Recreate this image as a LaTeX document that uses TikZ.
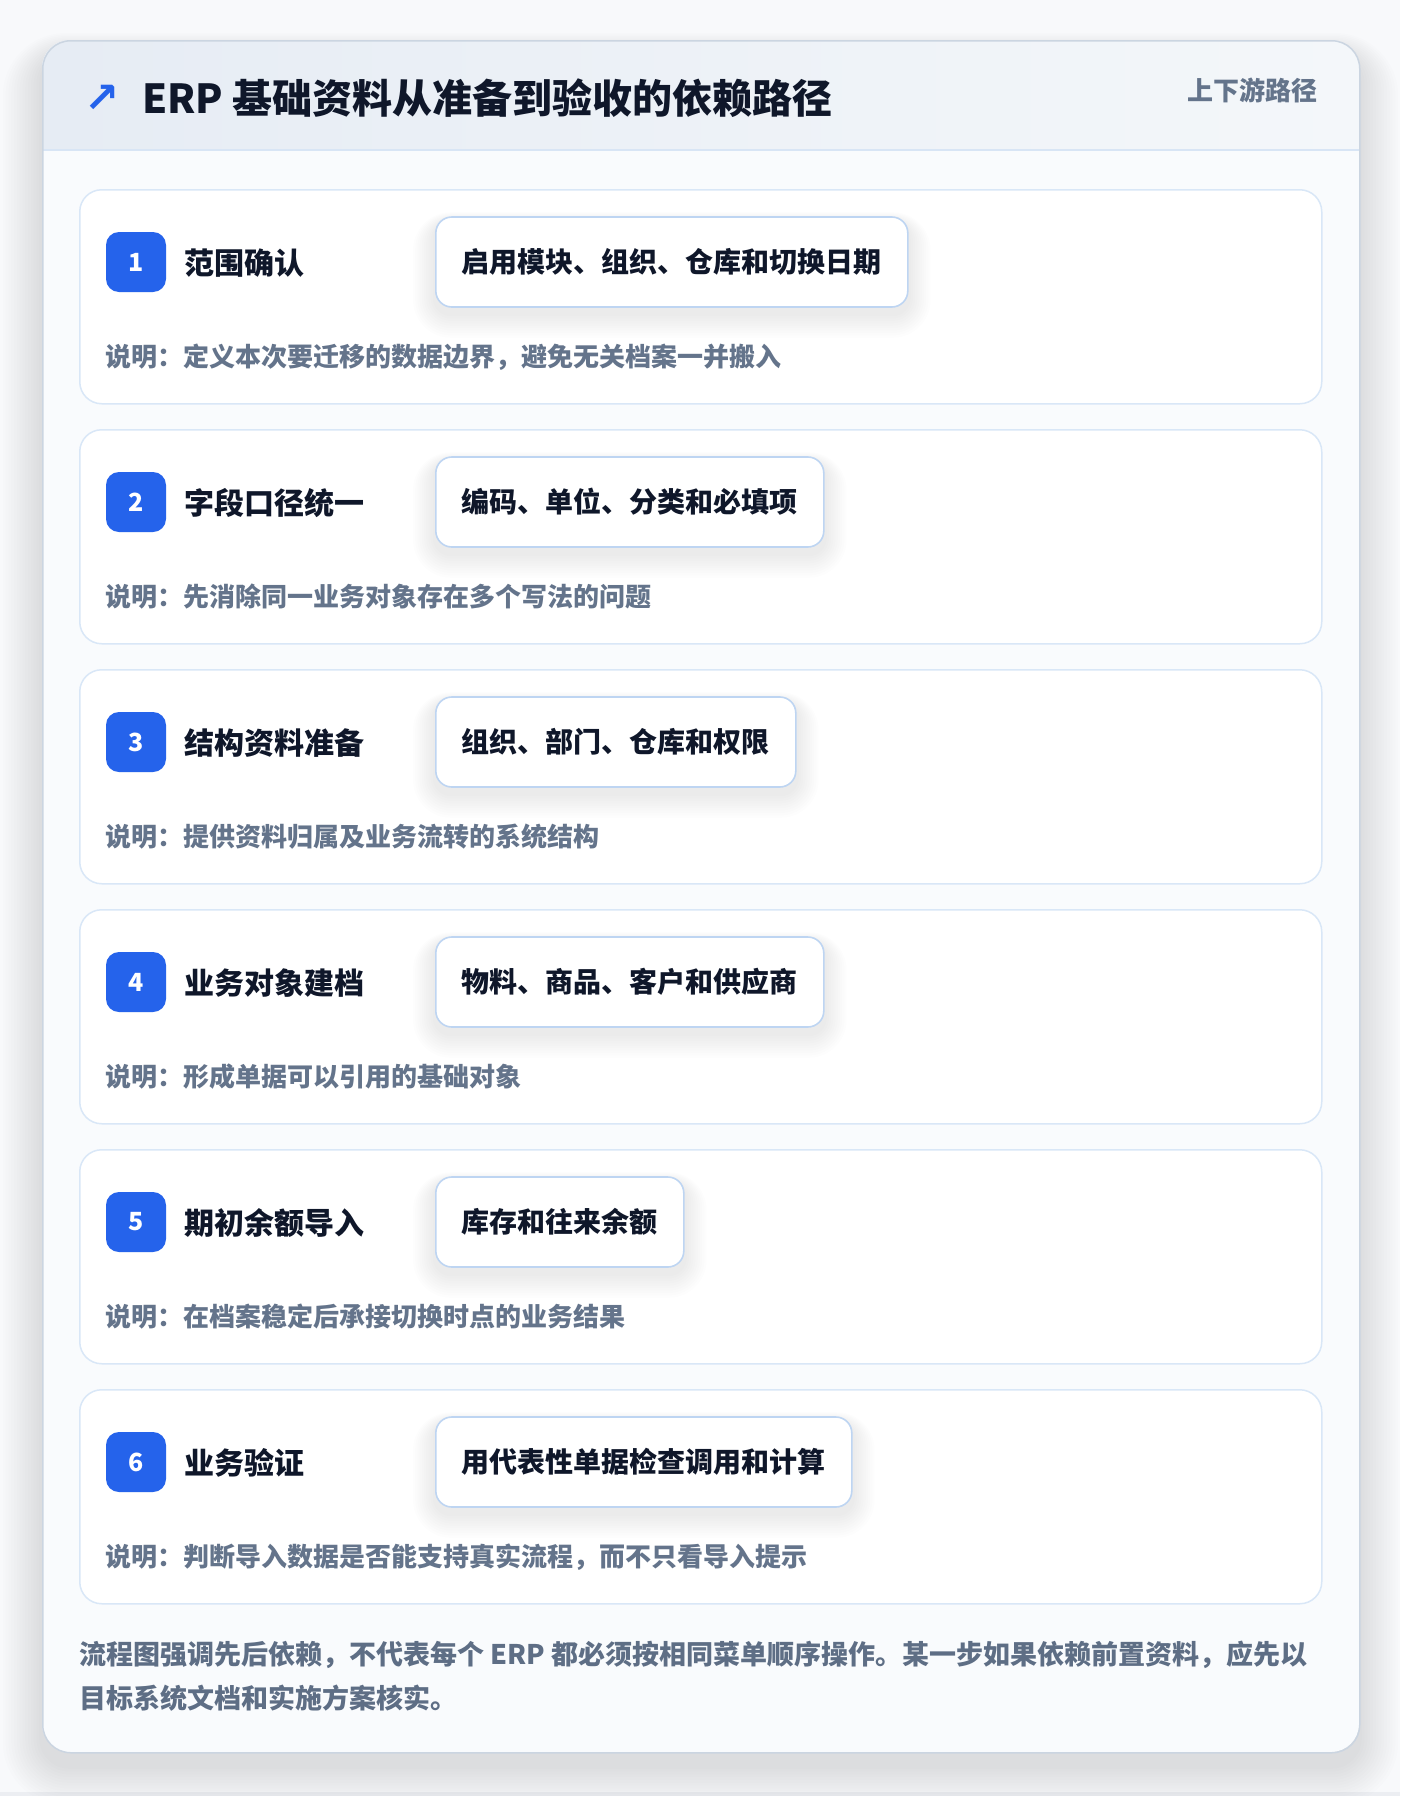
\documentclass[tikz,border=0pt]{standalone}
\usepackage{fontspec}
\setmainfont{Noto Sans CJK SC}
\newfontfamily\symfont{DejaVu Sans}
\definecolor{pagebg}{HTML}{F8F9FB}
\definecolor{cardbg}{HTML}{F9FBFD}
\definecolor{cardline}{HTML}{CBD5E1}
\definecolor{headL}{HTML}{E6ECF4}
\definecolor{headR}{HTML}{F4F7FA}
\definecolor{headline}{HTML}{D8E5F5}
\definecolor{stepline}{HTML}{D9E7F7}
\definecolor{tagline}{HTML}{BED5F2}
\definecolor{accent}{HTML}{2563EB}
\definecolor{ink}{HTML}{0F172A}
\definecolor{muted}{HTML}{64748B}
\definecolor{footc}{HTML}{5E6E85}
\definecolor{stripc}{HTML}{ECEEF2}
\pgfdeclarelayer{cardl}
\pgfdeclarelayer{stepl}
\pgfdeclarelayer{shadowl}
\pgfsetlayers{cardl,stepl,shadowl,main}
\begin{document}
\begin{tikzpicture}[x=1pt,y=-1pt,
  stepbox/.style={draw=stepline, line width=1.5pt, fill=white, rounded corners=22pt,
    minimum width=1242pt, minimum height=214pt, inner sep=0pt},
  badge/.style={fill=accent, rounded corners=13pt, minimum size=60pt, inner sep=0pt,
    text=white, font=\fontsize{25}{25}\selectfont\bfseries},
  steptitle/.style={inner sep=0pt, text=ink, font=\fontsize{30}{30}\selectfont\bfseries},
  tagbox/.style={draw=tagline, line width=1.6pt, fill=white, rounded corners=16pt,
    minimum height=90pt, inner xsep=26pt, inner ysep=0pt, text=ink,
    font=\fontsize{28}{28}\selectfont\bfseries},
  desc/.style={inner sep=0pt, text=muted, font=\fontsize{26}{26}\selectfont\bfseries},
  foot/.style={inner sep=0pt, text=footc, font=\fontsize{27}{27}\selectfont\bfseries},
]
\useasboundingbox (0,0) rectangle (1400,1796);
\begin{pgfonlayer}{cardl}
\fill[pagebg] (0,0) rectangle (1400,1796);
\fill[stripc] (0,1792) rectangle (1400,1796);
% card shadow
\foreach \s in {1,...,14}{
  \pgfmathsetmacro\rc{28+\s*2.5}
  \fill[black, opacity=0.008, rounded corners=\rc pt]
    (42-\s*2.8,40-\s*1.5+14) rectangle (1359+\s*2.8,1752+\s*2.8+14);
}
% card body
\fill[cardbg, rounded corners=28pt] (42,40) rectangle (1359,1752);
\begin{scope}
  \clip[rounded corners=28pt] (42,40) rectangle (1359,1752);
  \shade[left color=headL, right color=headR] (42,40) rectangle (1359,150);
\end{scope}
\draw[headline, line width=1.5pt] (42,150) -- (1359,150);
\node[draw=cardline, line width=1.5pt, rounded corners=28pt, minimum width=1317pt,
  minimum height=1712pt, anchor=north west, inner sep=0pt] (card) at (42,40) {};
\end{pgfonlayer}
% header
\node[inner sep=0pt, text=accent, font=\symfont\bfseries\fontsize{42}{42}\selectfont] (icon) at (102,99) {↗};
\node[inner sep=0pt, anchor=base west, text=ink, font=\fontsize{40}{40}\selectfont\bfseries] (title) at (142,113) {ERP 基础资料从准备到验收的依赖路径};
\node[inner sep=0pt, anchor=base east, text=muted, font=\fontsize{26}{26}\selectfont\bfseries] (subtitle) at (1318,100) {上下游路径};
% steps
\foreach \n/\t/\g/\d in {
  1/范围确认/启用模块、组织、仓库和切换日期/说明：定义本次要迁移的数据边界，避免无关档案一并搬入,
  2/字段口径统一/编码、单位、分类和必填项/说明：先消除同一业务对象存在多个写法的问题,
  3/结构资料准备/组织、部门、仓库和权限/说明：提供资料归属及业务流转的系统结构,
  4/业务对象建档/物料、商品、客户和供应商/说明：形成单据可以引用的基础对象,
  5/期初余额导入/库存和往来余额/说明：在档案稳定后承接切换时点的业务结果,
  6/业务验证/用代表性单据检查调用和计算/说明：判断导入数据是否能支持真实流程，而不只看导入提示}{
  \pgfmathsetmacro\ytop{189+240*(\n-1)}
  \pgfmathsetmacro\yc{\ytop+73}
  \begin{pgfonlayer}{stepl}
    \node[stepbox, anchor=north west] (step\n) at (79,\ytop) {};
  \end{pgfonlayer}
  \node[tagbox, anchor=west] (tag\n) at (435,\yc) {\g};
  \begin{pgfonlayer}{shadowl}
  \foreach \s in {1,...,10}{
    \pgfmathsetmacro\rcs{16+\s*2.2}
    \fill[black, opacity=0.007, rounded corners=\rcs pt]
      ([shift={(-\s*2.2,6-\s*1.0)}]tag\n.north west) rectangle
      ([shift={(\s*2.2,6+\s*2.4)}]tag\n.south east);
  }
  \end{pgfonlayer}
  \node[badge] (badge\n) at (136,\yc) {\n};
  \node[steptitle, anchor=base west] (title\n) at (184,\ytop+85) {\t};
  \node[desc, anchor=base west] (desc\n) at (105,\ytop+177) {\d};
}
% footer
\node[foot, anchor=base west] (foot1) at (79,1664) {流程图强调先后依赖，不代表每个 ERP 都必须按相同菜单顺序操作。某一步如果依赖前置资料，应先以};
\node[foot, anchor=base west] (foot2) at (79,1708) {目标系统文档和实施方案核实。};
\end{tikzpicture}
\end{document}
